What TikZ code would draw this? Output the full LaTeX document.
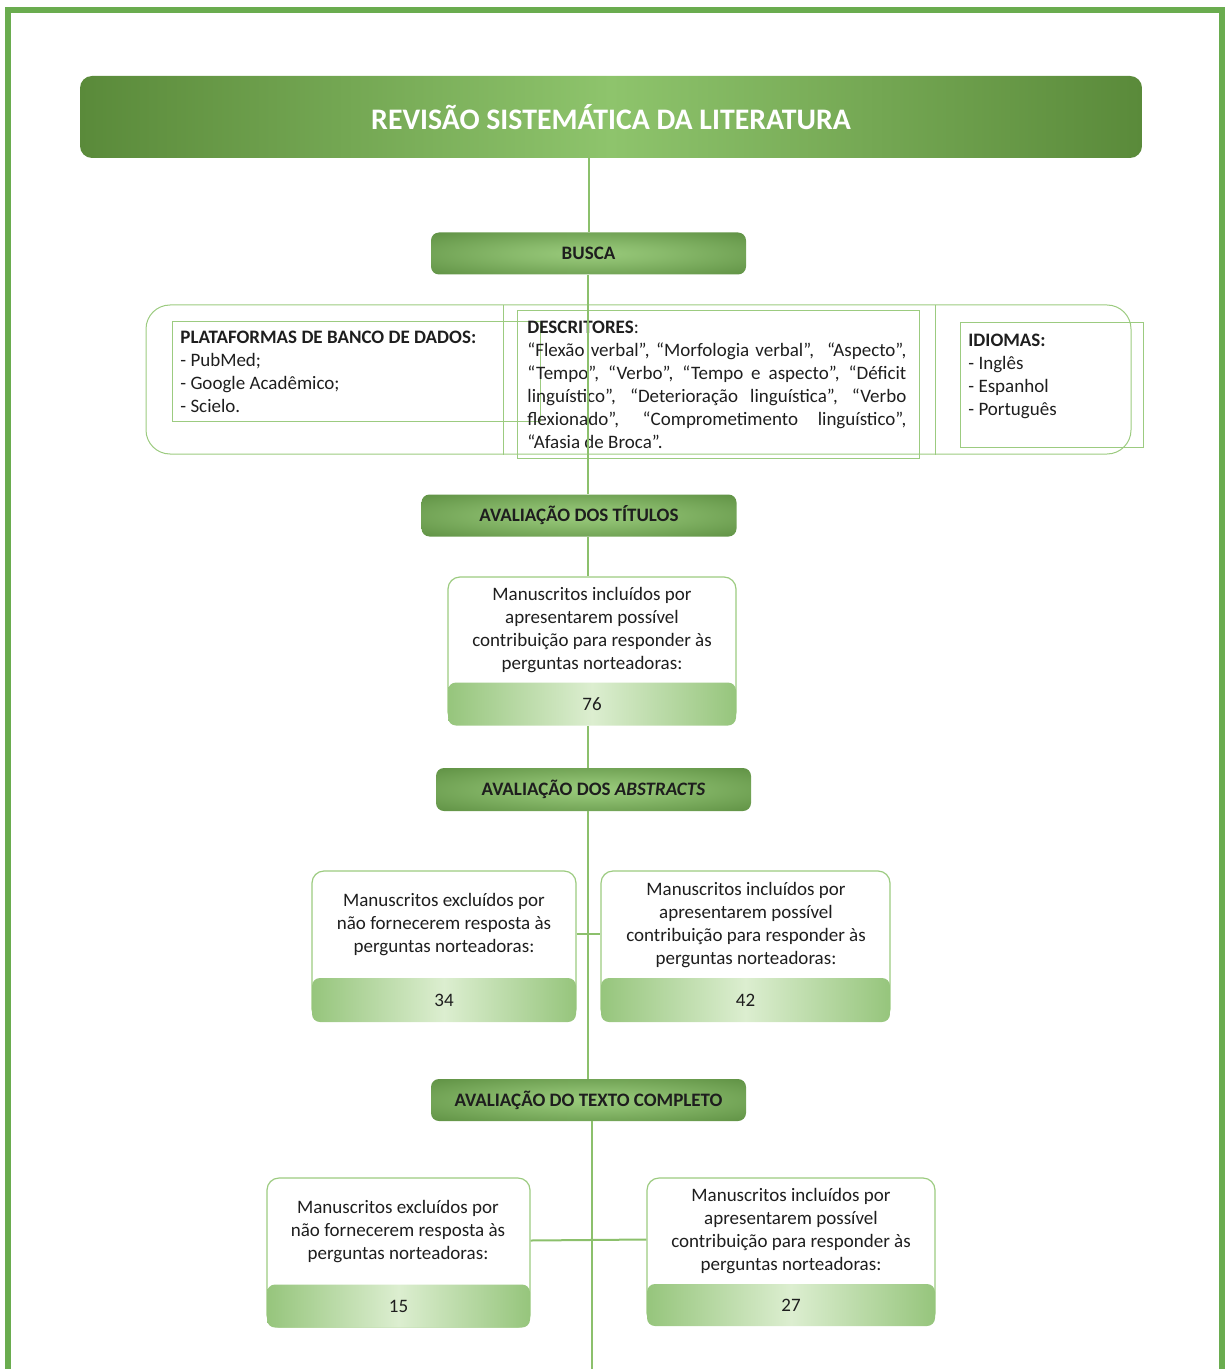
\documentclass[tikz,border=0pt]{standalone}
\usepackage{fontspec}
\setmainfont{Carlito}
\usepackage{tikz}
\usetikzlibrary{shapes,positioning}

\definecolor{framegreen}{HTML}{6AAC4F}
\definecolor{bardark}{HTML}{5A8A3A}
\definecolor{barlight}{HTML}{8EC46C}
\definecolor{hdrdark}{HTML}{55873A}
\definecolor{hdrlight}{HTML}{9ACB7C}
\definecolor{numdark}{HTML}{96C57C}
\definecolor{numlight}{HTML}{DCEED0}
\definecolor{linegreen}{HTML}{8CC06C}
\definecolor{boxline}{HTML}{9CCB80}
\definecolor{txt}{HTML}{1E1E1E}

\pgfdeclareradialshading{hdrshade}{\pgfpoint{0bp}{0bp}}{color(0bp)=(hdrlight); color(12bp)=(hdrlight!75!hdrdark); color(42bp)=(hdrdark); color(72bp)=(hdrdark)}

\begin{document}
\begin{tikzpicture}
[x=0.5pt,y=-0.5pt]
\tikzset{
	titlebar/.style = {rectangle, rounded corners=6pt, left color=bardark, right color=bardark, middle color=barlight, minimum width=531pt, minimum height=41pt, text=white, font=\fontsize{14.9}{17}\selectfont\bfseries},
	header/.style = {rectangle, rounded corners=4pt, shading=hdrshade, minimum width=157.5pt, minimum height=21pt, text=txt, font=\fontsize{9.5}{11.5}\selectfont\bfseries},
	msbox/.style = {rectangle, rounded corners=6pt, draw=boxline, line width=0.6pt, fill=white, minimum height=73.5pt},
	numbar/.style = {rectangle, rounded corners=4pt, left color=numdark, right color=numdark, middle color=numlight, minimum height=21.5pt, text=txt, font=\fontsize{9.5}{11.5}\selectfont},
	mstext/.style = {align=center, text=txt, font=\fontsize{9.5}{11.5}\selectfont, inner sep=0},
	listtext/.style = {anchor=north west, align=left, text=txt, font=\fontsize{9.5}{11.5}\selectfont, inner sep=0},
	thinbox/.style = {rectangle, draw=boxline, line width=0.5pt},
	link/.style = {draw=linegreen, line width=1pt}
}
\useasboundingbox (0,0) rectangle (1225,1369);

\draw [framegreen, line width=3pt] (7.5,1369) -- (7.5,10) -- (1222,10) -- (1222,1369);

\node (title) [titlebar] at (611,117) {REVISÃO SISTEMÁTICA DA LITERATURA};
\node (busca) [header] at (588.5,253.5) {BUSCA};

\node (search) [thinbox, rounded corners=12pt, minimum width=492.5pt, minimum height=74.5pt] at (638.5,379.5) {};
\node (platbox) [thinbox, minimum width=184pt, minimum height=49.5pt] at (356,371.5) {};
\node (descbox) [thinbox, minimum width=201pt, minimum height=73.5pt] at (718,384.5) {};
\node (idibox) [thinbox, minimum width=91.5pt, minimum height=62pt] at (1051.5,385) {};
\coordinate (sepa) at (503,305);
\coordinate (sepb) at (935,305);
\draw [thinbox] (sepa) -- (sepa |- search.south);
\draw [thinbox] (sepb) -- (sepb |- search.south);

\node (plat) [listtext] at (180,331) {\textbf{PLATAFORMAS DE BANCO DE DADOS:}\\- PubMed;\\- Google Acadêmico;\\- Scielo.};
\node (desc) [listtext, text width=189.5pt, align=justify] at (527,321) {\textbf{DESCRITORES}:\\“Flexão verbal”, “Morfologia verbal”, \ “Aspecto”,\linebreak “Tempo”, “Verbo”, “Tempo e aspecto”, “Déficit\linebreak linguístico”, “Deterioração linguística”, “Verbo\linebreak flexionado”, “Comprometimento linguístico”,\linebreak “Afasia de Broca”.};
\node (idi) [listtext] at (968,334) {\textbf{IDIOMAS:}\\- Inglês\\- Espanhol\\- Português};

\node (titulos) [header] at (579,515.5) {AVALIAÇÃO DOS TÍTULOS};

\node (box76) [msbox, minimum width=144pt] at (592,650.5) {};
\node (bar76) [numbar, minimum width=144pt] at (592,704) {76};
\node (txt76) [mstext] at (592,630.5) {Manuscritos incluídos por\\apresentarem possível\\contribuição para responder às\\perguntas norteadoras:};

\node (abstracts) [header, minimum height=21.5pt] at (593.5,789.5) {AVALIAÇÃO DOS \textit{ABSTRACTS}};

\node (box34) [msbox, minimum width=132pt, minimum height=75pt] at (444,946) {};
\node (bar34) [numbar, minimum width=132pt, minimum height=22pt] at (444,1000) {34};
\node (txt34) [mstext] at (444,924.5) {Manuscritos excluídos por\\não fornecerem resposta às\\perguntas norteadoras:};

\node (box42) [msbox, minimum width=144.5pt, minimum height=75pt] at (745.5,946) {};
\node (bar42) [numbar, minimum width=144.5pt, minimum height=22pt] at (745.5,1000) {42};
\node (txt42) [mstext] at (746,925) {Manuscritos incluídos por\\apresentarem possível\\contribuição para responder às\\perguntas norteadoras:};

\node (completo) [header] at (588.5,1100) {AVALIAÇÃO DO TEXTO COMPLETO};

\node (box15) [msbox, minimum width=131.5pt, minimum height=74.5pt] at (398.5,1252.5) {};
\node (bar15) [numbar, minimum width=131.5pt] at (398.5,1306) {15};
\node (txt15) [mstext] at (398,1231.5) {Manuscritos excluídos por\\não fornecerem resposta às\\perguntas norteadoras:};

\node (box27) [msbox, minimum width=144pt] at (791,1251.5) {};
\node (bar27) [numbar, minimum width=144pt, minimum height=21pt] at (791,1305) {27};
\node (txt27) [mstext] at (791,1231) {Manuscritos incluídos por\\apresentarem possível\\contribuição para responder às\\perguntas norteadoras:};

\coordinate (spine) at (588,0);
\coordinate (bottom) at (592,1369);
\draw [link] (busca.north) -- (busca.north |- title.south);
\draw [link] (busca.south -| spine) -- (titulos.north -| spine);
\draw [link] (titulos.south -| spine) -- (box76.north -| spine);
\draw [link] (bar76.south -| spine) -- (abstracts.north -| spine);
\draw [link] (abstracts.south -| spine) -- (completo.north -| spine);
\draw [link] ([yshift=6pt]box34.east) -- ([yshift=6pt]box42.west);
\draw [link] (completo.south -| bottom) -- (bottom);
\draw [link] ([yshift=6pt]box15.east) -- ([yshift=6pt]box27.west);
\end{tikzpicture}
\end{document}
